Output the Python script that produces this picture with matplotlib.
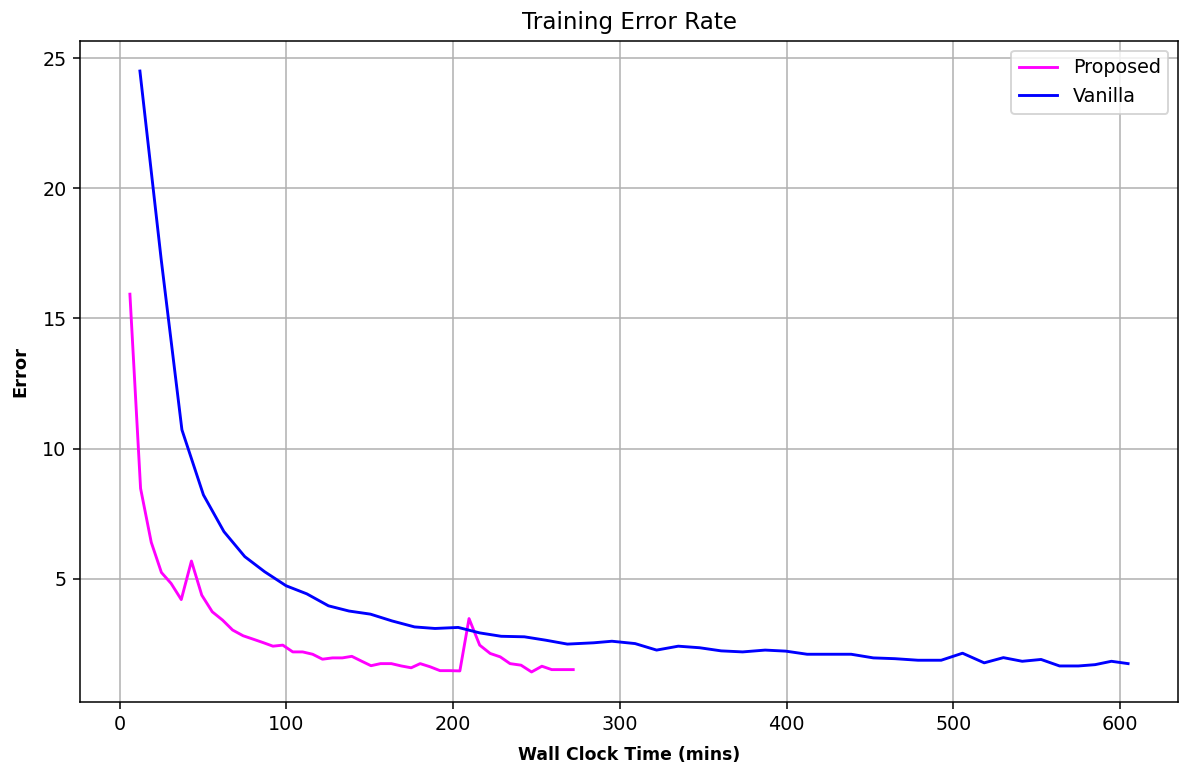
import matplotlib
matplotlib.use("Agg")
import matplotlib.pyplot as plt

# wall clock time (mins) and error
proposed_time = [6.1, 12.5, 18.9, 25.0, 30.8, 36.9, 43.0, 49.2, 55.5, 61.7,
                 67.7, 74.0, 80.0, 85.9, 91.9, 97.8, 103.8, 109.7, 115.7, 121.6,
                 127.6, 133.5, 139.2, 145.2, 150.7, 156.4, 162.9, 168.9, 174.8, 180.2,
                 186.1, 192.1, 198.0, 204.0, 209.5, 215.9, 222.2, 228.2, 234.1, 240.7,
                 247.0, 253.2, 259.1, 266.0, 272.0]
proposed_error = [15.93, 8.47, 6.4, 5.24, 4.82, 4.2, 5.68, 4.37, 3.73, 3.41,
                  3.03, 2.81, 2.68, 2.55, 2.41, 2.45, 2.19, 2.19, 2.1, 1.91,
                  1.96, 1.96, 2.02, 1.83, 1.66, 1.74, 1.74, 1.65, 1.58, 1.74,
                  1.62, 1.47, 1.47, 1.46, 3.47, 2.45, 2.13, 2.0, 1.74, 1.68,
                  1.42, 1.64, 1.51, 1.51, 1.51]

vanilla_time = [12.1, 24.8, 37.3, 50.2, 62.5, 75.0, 86.9, 99.8, 112.2, 125.2,
                137.5, 150.4, 163.3, 176.8, 189.1, 203.0, 215.9, 228.8, 242.7, 255.5,
                268.5, 284.3, 295.2, 309.1, 322.0, 335.0, 347.8, 360.7, 373.6, 387.1,
                399.4, 412.3, 425.6, 438.7, 452.0, 464.9, 478.8, 492.7, 505.5, 518.5,
                530.0, 541.3, 552.6, 563.7, 575.0, 585.0, 594.8, 604.8]
vanilla_error = [24.5, 17.3, 10.72, 8.22, 6.81, 5.85, 5.27, 4.73, 4.42, 3.96,
                 3.76, 3.64, 3.38, 3.15, 3.09, 3.13, 2.92, 2.79, 2.77, 2.64,
                 2.49, 2.54, 2.6, 2.51, 2.26, 2.41, 2.35, 2.23, 2.19, 2.26,
                 2.22, 2.1, 2.1, 2.1, 1.96, 1.93, 1.87, 1.87, 2.14, 1.77,
                 1.97, 1.83, 1.9, 1.65, 1.65, 1.7, 1.83, 1.74]

dpi = 138
fig = plt.figure(figsize=(1179 / dpi, 770 / dpi), dpi=dpi)
ax = fig.add_axes([80 / 1179, 68 / 770, 1098 / 1179, 661 / 770])

ax.plot(proposed_time, proposed_error, color='#ff00ff', label='Proposed')
ax.plot(vanilla_time, vanilla_error, color='#0000ff', label='Vanilla')

ax.set_title('Training Error Rate')
ax.set_xlabel('Wall Clock Time (mins)', fontweight='bold', fontsize=9, labelpad=6)
ax.set_ylabel('Error', fontweight='bold', fontsize=9.3, labelpad=7)
ax.grid(True)
ax.legend(loc='upper right')

fig.savefig('out.png', dpi=dpi)
